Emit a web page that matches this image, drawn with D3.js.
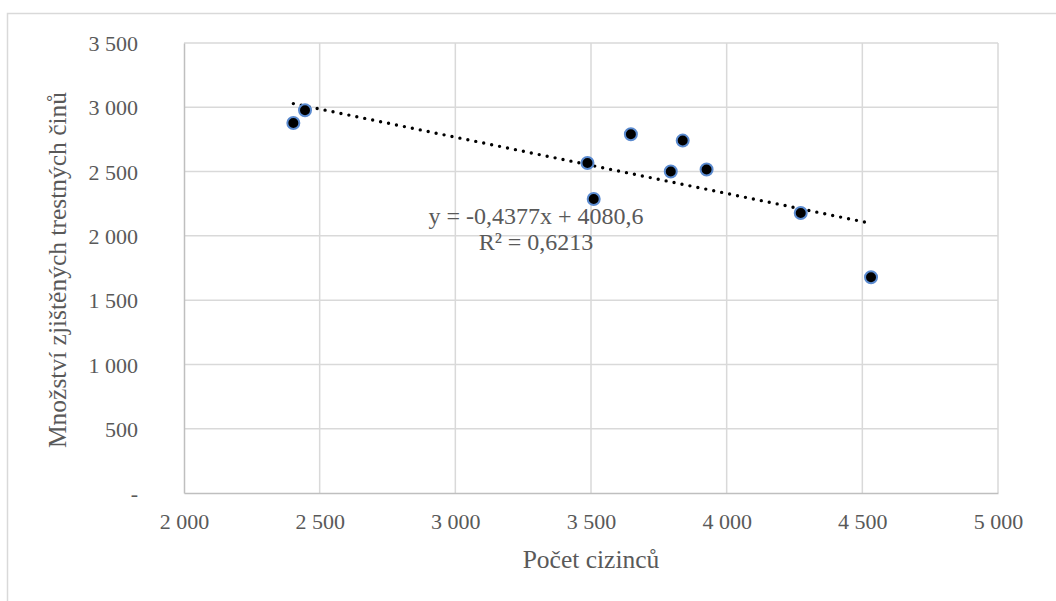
<!DOCTYPE html>
<html>
<head>
<meta charset="utf-8">
<script src="https://cdn.jsdelivr.net/npm/d3@7"></script>
<style>
  html, body { margin: 0; padding: 0; background: #fff; }
  svg { display: block; }
  text { font-family: "Liberation Serif", "Times New Roman", serif; fill: #595959; }
</style>
</head>
<body>
<svg id="chart" width="1056" height="601"></svg>
<script>
// ---- data ----
const foreigners = [2403, 2446, 3487, 3510, 3647, 3838, 3794, 3926, 4273, 4532];
const crimes     = [2878, 2977, 2567, 2287, 2790, 2741, 2500, 2516, 2178, 1678];
const xTicks = [2000, 2500, 3000, 3500, 4000, 4500, 5000];
const yTicks = [0, 500, 1000, 1500, 2000, 2500, 3000, 3500];
const trendSlope = -0.4377;
const trendIntercept = 4080.6;
const equationLines = ["y = -0,4377x + 4080,6", "R² = 0,6213"];
const xTitle = "Počet cizinců";
const yTitle = "Množství zjištěných trestných činů";

// ---- layout ----
const svg = d3.select("#chart");
const L = 184, R = 998, T = 43, B = 493;

const x = d3.scaleLinear().domain([2000, 5000]).range([L, R]);
const y = d3.scaleLinear().domain([0, 3500]).range([B, T]);
const fmt = d => d === 0 ? "-" : d3.format(",")(d).replace(/,/g, " ");

// chart border
svg.append("rect").attr("x", 7.5).attr("y", 13.5).attr("width", 1060).attr("height", 600)
  .attr("fill", "none").attr("stroke", "#d9d9d9").attr("stroke-width", 1.5);

// gridlines
svg.append("g").selectAll("line").data(yTicks.filter(d => d !== 0)).join("line")
  .attr("x1", L).attr("x2", R).attr("y1", d => y(d)).attr("y2", d => y(d))
  .attr("stroke", "#d9d9d9").attr("stroke-width", 1.5);
svg.append("g").selectAll("line").data(xTicks.filter(d => d !== 2000)).join("line")
  .attr("x1", d => x(d)).attr("x2", d => x(d)).attr("y1", T).attr("y2", B)
  .attr("stroke", "#d9d9d9").attr("stroke-width", 1.5);

// axes
const xAxis = d3.axisBottom(x).tickValues(xTicks).tickFormat(fmt).tickSize(0).tickPadding(20);
const yAxis = d3.axisLeft(y).tickValues(yTicks).tickFormat(fmt).tickSize(0).tickPadding(46);

const gx = svg.append("g").attr("transform", `translate(0,${B})`).call(xAxis);
const gy = svg.append("g").attr("transform", `translate(${L},0)`).call(yAxis);
[gx, gy].forEach(g => {
  g.select(".domain").attr("stroke", "#bfbfbf").attr("stroke-width", 1.5);
  g.selectAll("text").style("font-family", '"Liberation Serif", serif')
    .style("font-size", "22px").attr("fill", "#595959");
});
gy.selectAll("text").attr("dy", "0.35em");

// trendline
const xExt = d3.extent(foreigners);
svg.append("line")
  .attr("x1", x(xExt[0])).attr("y1", y(trendSlope * xExt[0] + trendIntercept))
  .attr("x2", x(xExt[1])).attr("y2", y(trendSlope * xExt[1] + trendIntercept))
  .attr("stroke", "#000").attr("stroke-width", 3.4).attr("stroke-linecap", "round")
  .attr("stroke-dasharray", "0 8.1");

// points
svg.append("g").selectAll("circle").data(foreigners.map((v, i) => [v, crimes[i]])).join("circle")
  .attr("cx", d => x(d[0])).attr("cy", d => y(d[1])).attr("r", 6)
  .attr("fill", "#000").attr("stroke", "#5b8bd0").attr("stroke-width", 2);

// equation label
const eq = svg.append("text").attr("text-anchor", "middle").style("font-size", "24px");
equationLines.forEach((t, i) => {
  eq.append("tspan").attr("x", 536).attr("y", 216 + i * 26).attr("dy", "0.35em").text(t);
});

// axis titles
svg.append("text").attr("x", 591).attr("y", 559).attr("dy", "0.35em")
  .attr("text-anchor", "middle").style("font-size", "25.5px").text(xTitle);
svg.append("text").attr("transform", "translate(57,270) rotate(-90)").attr("dy", "0.35em")
  .attr("text-anchor", "middle").style("font-size", "25.5px").text(yTitle);
</script>
</body>
</html>
